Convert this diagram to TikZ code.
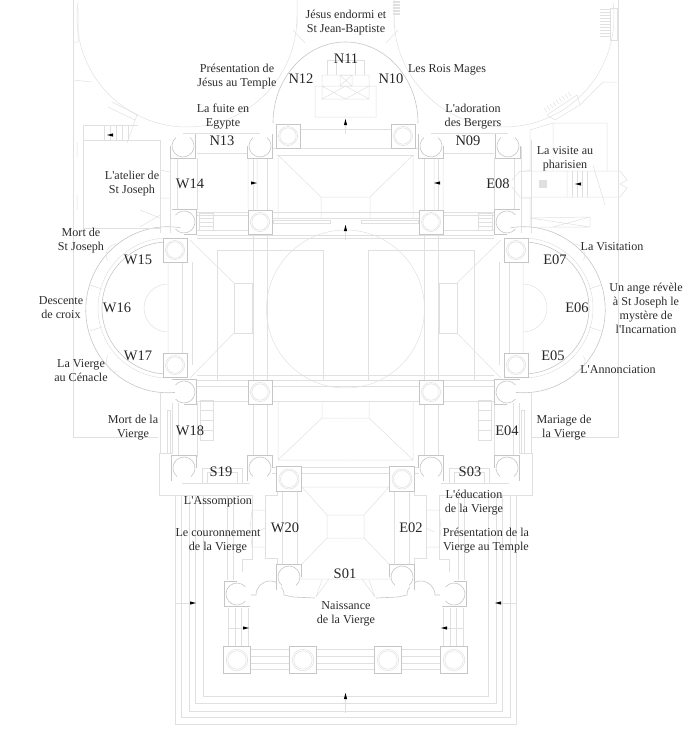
\documentclass[tikz,border=0pt]{standalone}
\usepackage{fontspec}
\setmainfont[Ligatures=TeXOff]{Liberation Serif}
\definecolor{planline}{HTML}{E0E0E0}
\definecolor{plandark}{HTML}{C6C6C6}
\definecolor{labelink}{HTML}{2B2B2B}
\tikzset{
  plan/.style={draw=planline, line width=0.5pt},
  wall/.style={draw=plandark, line width=0.6pt},
  lbl/.style={text=labelink, align=center, inner sep=0pt, font=\fontsize{12.1}{14}\selectfont},
  code/.style={text=black!85, inner sep=0pt, font=\fontsize{14.5}{16}\selectfont},
}
\begin{document}
\begin{tikzpicture}[x=1pt, y=-1pt]
  \useasboundingbox (0,0) rectangle (690,736);
  % both halves of the plan
  \foreach \flip in {1,-1} {
    \begin{scope}[shift={(345.5,0)}, xscale=\flip, shift={(-345.5,0)}]
      % crossing
      \draw[plan] (217,250) rectangle (323,380);
      \draw[plan] (234,283) rectangle (252,333);
      \draw[plan] (190,240) -- (234,283) (190,378) -- (234,333);
      \draw[plan] (345.5,230) arc[start angle=90, delta angle=180, radius=79pt];
      \foreach \y in {212,235,238,375,380,386,401} \draw[plan] (197,\y) -- (345.5,\y);
      \foreach \x in {253,267} \draw[plan] (\x,158) -- (\x,459);
      \foreach \x in {182,192} \draw[plan] (\x,262) -- (\x,365);
      % side apse
      \draw[wall] (182,228) arc[start angle=80, delta angle=195, x radius=82pt, y radius=83pt];
      \draw[plan] (168,238) arc[start angle=90, delta angle=180, radius=70pt];
      \draw[wall] (168,242) arc[start angle=90, delta angle=180, radius=66pt];
      \draw[plan] (168,284) arc[start angle=90, delta angle=180, radius=24pt];
      \draw[plan] (168,250) -- (168,365) (90,285) -- (102,289) (90,331) -- (102,327);
      \draw[plan] (119,244) arc[start angle=80, delta angle=130, radius=11pt];
      \draw[plan] (119,372) arc[start angle=-80, delta angle=-130, radius=11pt];
      % north bay and apse
      \draw[plan] (272,148) -- (345.5,148) (277,155) -- (345.5,155) (277,129) -- (345.5,129);
      \draw[plan] (278,155) -- (278,218) (278,155) -- (321,197) -- (345.5,197) (321,197) -- (321,218);
      \draw[plan] (272,218) -- (345.5,218) (273,220) rectangle (330,223);
      \draw[wall] (273,123) arc[start angle=180, delta angle=-90, x radius=72.5pt, y radius=81pt];
      \draw[plan] (189,125) ++(108,-108) arc[start angle=0, delta angle=-188, radius=110pt];
      \draw[plan] (297,0) -- (297,27) (293,30) -- (305,43);
      \draw[plan] (345.5,86) -- (315,86) -- (315,117) -- (345.5,117) (345.5,75) -- (322,75) -- (322,99) -- (345.5,99) (322,86) -- (345.5,99) (322,99) -- (345.5,86);
      \draw[plan] (345.5,60) -- (327,60) -- (327,75) (336,60) -- (336,75);
      % transept bays
      \draw[plan] (170,147) -- (170,233) (177,158) -- (177,210) (197,158) -- (197,210) (160,140) -- (160,233);
      \draw[plan] (197,153) -- (248,153) (183,133) -- (260,133) (197,215) -- (248,215) (197,230) -- (248,230);
      \draw[plan] (160,170) -- (170,172) (160,198) -- (170,198) (248,158) -- (248,210) (257,158) -- (257,210);
      \draw[plan] (199,213) rectangle (213,230) (199,218) -- (213,218) (199,222) -- (213,222) (199,226) -- (213,226);
      \draw[plan] (160,393) -- (160,453) -- (172,453) -- (172,403) (167,410) rectangle (170,453) (178,403) -- (178,457) (197,403) -- (197,457);
      \draw[plan] (200,400) rectangle (213,440) (200,410) -- (213,410) (200,420) -- (213,420) (200,430) -- (213,430);
      % south bay
      \draw[plan] (278,402) -- (278,460) -- (345.5,460) (322,402) -- (322,418) -- (345.5,418) (322,418) -- (278,460);
      \draw[plan] (272,467) -- (345.5,467) (272,473) -- (345.5,473);
      % south end
      \draw[plan] (159,453) -- (159,495) -- (252,495) (182,483) -- (250,483);
      \draw[plan] (202,468) rectangle (242,483) (207,472) rectangle (237,483);
      \draw[plan] (277,492) -- (277,495) -- (265,495) -- (265,558) -- (277,558) -- (277,565);
      \draw[plan] (282,492) -- (282,565) (297,492) -- (297,565);
      \draw[plan] (302,487) -- (345.5,487) (302,487) -- (327,515) -- (327,538) -- (301,565) -- (301,579) -- (345.5,579) (327,515) -- (345.5,515) (327,538) -- (345.5,538);
      \draw[plan] (265,510) -- (252,510) -- (250,528) -- (252,547) -- (265,547) (265,528) -- (257,532);
      \draw[plan] (316,597) -- (322,580) (316,597) -- (329,579);
      % porch and steps
      \draw[plan] (252,495) -- (252,559) -- (242,559) -- (242,572);
      \draw[plan] (227,495) -- (227,580) (233,495) -- (233,580);
      \foreach \x in {228,235,241,248} \draw[plan] (\x,608) -- (\x,647);
      \foreach \y in {649,656,663,669} \draw[plan] (251,\y) -- (345.5,\y);
      \draw[wall] (251,595) -- (256,595) arc[start angle=180, delta angle=-180, radius=14pt] -- (293,597) -- (315,598);
      \foreach \x/\y in {175/724,181/717,189/711,195/703,203/696} {
        \draw[plan] (\x,495) -- (\x,\y) -- (345.5,\y);
      }
      \draw[plan] (175,603) -- (193,603) (228,628) -- (246,628);
      % pillars, whole ones
      \foreach \x/\y/\s in {288/136/12,260/222/12,175/250/12,175/365/12,260/392/12,289/479/12.5,237/660/13.5,303/660/13.5} {
        \draw[wall, fill=white] (\x-\s,\y-\s) rectangle (\x+\s,\y+\s);
        \draw[plan, fill=white] (\x,\y) circle[radius=\s*0.8pt];
        \draw[plan] (\x,\y) circle[radius=\s*0.68pt];
      }
      % pillars, open on one side
      \foreach \x/\y/\r in {183/146/0,260/146/0,184/222/90,184/392/90,184/468/180,260/468/180,237/594/-90,289/577/180} {
        \begin{scope}[shift={(\x,\y)}, rotate=\r]
          \draw[wall, fill=white] (-12.5,0) -- (-12.5,12.5) -- (12.5,12.5) -- (12.5,-12.5);
          \draw[wall] (130:11pt) arc[start angle=130, delta angle=280, radius=11pt];
        \end{scope}
      }
    \end{scope}
  }
  % outer walls
  \draw[plan] (73,0) -- (73,437) -- (158,437);
  \draw[plan] (618,0) -- (618,437) -- (532,437);
  \draw[plan] (78,8) -- (78,42) -- (73,42) (73,80) -- (92,82) (603,82) -- (617,82) (580,105) -- (603,82);
  % chapel on the left
  \draw[plan] (83,228) -- (83,125) -- (138,125) (83,140) -- (160,140) (83,228) -- (160,228);
  \draw[plan] (112,102) -- (138,115) (108,107) -- (135,120) (137,115) -- (127,143);
  \foreach \x in {104,110,116,122,128} \draw[plan] (\x,125) -- (\x,140);
  \draw[plan] (77,142) -- (77,157) (77,195) -- (77,210) (140,210) -- (160,218) (140,227) -- (160,215);
  % chapel on the right
  \draw[plan] (530,171) -- (530,130) -- (553,123) -- (607,123) -- (607,171) (553,123) -- (553,171);
  \draw[plan] (512,180) -- (520,171) -- (530,171) -- (620,171) -- (627,180) -- (620,184) -- (627,188) -- (620,197) -- (530,197) -- (520,197) -- (512,187);
  \draw[plan] (530,197) -- (530,227) -- (590,227) -- (590,217) -- (530,218) (553,227) -- (590,217) (530,218) -- (590,227);
  \draw[plan] (593,165) -- (605,205) (567,171) -- (567,197);
  \foreach \x in {572,577,582,587} \draw[plan] (\x,171) -- (\x,197);
  \draw[plan] (547,115) -- (577,95) (555,120) -- (580,105) (547,115) -- (555,120) (577,95) -- (580,105);
  \foreach \i in {0,...,8} {
    \draw[plan] (544+3*\i,108-2*\i) -- (547+3*\i,112-2*\i);
  }
  \foreach \i in {0,...,9} {
    \draw[plan] (600,9+3*\i) -- (610,9+3*\i);
    \draw[plan] (393,1+1.5*\i) -- (400,1+1.5*\i);
  }
  \draw[plan] (610,8) rectangle (617,40);
  \draw[plan, fill=planline] (539,180) rectangle (546,187);
  \draw[plan] (340,75) rectangle (352,86) (340,75) -- (352,86) (340,86) -- (352,75);
  % direction marks
  \draw[plan] (345.5,134) -- (345.5,124) (345.5,240) -- (345.5,225) (345.5,713) -- (345.5,694);
  \foreach \x/\y/\r in {345.5/122/90,345.5/228/90,345.5/696/90,254/183/0,437/183/180,110/135/180,578/184/180,193/603/0,246/628/0,498/603/180,444/628/180} {
    \fill[black, shift={(\x,\y)}, rotate=\r] (-3,-1.6) -- (3,0) -- (-3,1.6) -- cycle;
  }
  % bay numbers
  \foreach \nm/\x/\y in {N11/346/59,N12/301/79,N10/391/79,N13/222/141,N09/468/141,W14/190/184,E08/498/184,W15/138/260,W16/117/308,W17/138/356,W18/190/431,S19/221/472,E07/555/260,E06/577/308,E05/553/356,E04/507/431,S03/470/472,W20/285/528,E02/411/528,S01/345/574} {
    \node[code] (\nm) at (\x,\y) {\nm};
  }
  % scenes
  \node[lbl] (jesus) at (346,23) {Jésus endormi et\\St Jean-Baptiste};
  \node[lbl] (temple) at (237,77) {Présentation de\\Jésus au Temple};
  \node[lbl] (mages) at (447,70) {Les Rois Mages};
  \node[lbl] (fuite) at (223,117) {La fuite en\\Egypte};
  \node[lbl] (bergers) at (473,117) {L'adoration\\des Bergers};
  \node[lbl] (atelier) at (132,184) {L'atelier de\\St Joseph};
  \node[lbl] (pharisien) at (565,159) {La visite au\\pharisien};
  \node[lbl] (mortjoseph) at (81,241) {Mort de\\St Joseph};
  \node[lbl] (descente) at (61,308) {Descente\\de croix};
  \node[lbl] (cenacle) at (81,371) {La Vierge\\au Cénacle};
  \node[lbl] (mortvierge) at (133,428) {Mort de la\\Vierge};
  \node[lbl] (visitation) at (612,247) {La Visitation};
  \node[lbl] (ange) at (646,308) {Un ange révèle\\à St Joseph le\\mystère de\\l'Incarnation};
  \node[lbl] (annonciation) at (618,370) {L'Annonciation};
  \node[lbl] (mariage) at (564,428) {Mariage de\\la Vierge};
  \node[lbl] (assomption) at (218,502) {L'Assomption};
  \node[lbl] (couronnement) at (218,541) {Le couronnement\\de la Vierge};
  \node[lbl] (education) at (474,503) {L'éducation\\de la Vierge};
  \node[lbl] (presentation) at (486,541) {Présentation de la\\Vierge au Temple};
  \node[lbl] (naissance) at (346,614) {Naissance\\de la Vierge};
\end{tikzpicture}
\end{document}
